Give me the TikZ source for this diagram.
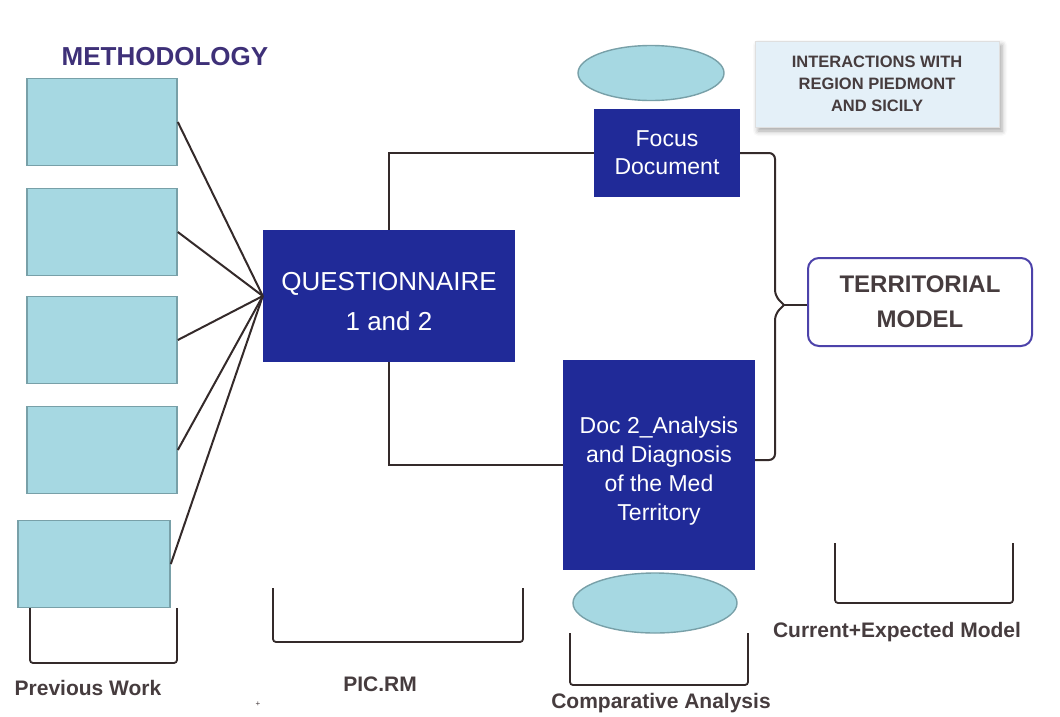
\documentclass[tikz,border=0pt]{standalone}
\usepackage{fontspec}
\setmainfont{Liberation Sans}
\usetikzlibrary{shapes.geometric,shadows.blur}

\definecolor{docblue}{RGB}{32,42,152}
\definecolor{lightcyan}{RGB}{166,216,226}
\definecolor{cyanedge}{RGB}{120,160,168}
\definecolor{inkline}{RGB}{52,42,42}
\definecolor{labelgray}{RGB}{70,60,62}
\definecolor{titlepurple}{RGB}{62,48,120}
\definecolor{modeledge}{RGB}{76,66,170}
\definecolor{noteblue}{RGB}{228,240,248}

\tikzset{
  workbox/.style={draw=cyanedge, line width=1.6pt, fill=lightcyan,
    minimum width=150pt, minimum height=87pt, inner sep=0pt},
  docbox/.style={fill=docblue, text=white, align=center, inner sep=0pt},
  doctext/.style={text=white, align=center, inner sep=0pt, yshift=-6pt},
  oval/.style={ellipse, draw=cyanedge, line width=1.4pt, fill=lightcyan, inner sep=0pt},
  link/.style={draw=inkline, line width=2pt},
  bracket/.style={draw=inkline, line width=1.8pt, rounded corners=3pt},
  caption/.style={text=labelgray, font=\bfseries\fontsize{21}{24}\selectfont, inner sep=0pt}
}

\begin{document}
\begin{tikzpicture}[x=1pt,y=-1pt]
\useasboundingbox (0,0) rectangle (1060,716);

% title
\node[text=titlepurple, font=\bfseries\fontsize{26}{30}\selectfont] (title) at (165,57) {METHODOLOGY};

% previous work boxes
\node[workbox] (w1) at (102,122) {};
\node[workbox] (w2) at (102,232) {};
\node[workbox] (w3) at (102,340) {};
\node[workbox] (w4) at (102,450) {};
\node[workbox, minimum width=152pt] (w5) at (94,564) {};

% questionnaire
\node[docbox, minimum width=252pt, minimum height=132pt,
  label={[doctext, font=\fontsize{26}{40}\selectfont]center:{QUESTIONNAIRE\\1 and 2}}] (q) at (389,296) {};

% documents
\node[docbox, minimum width=146pt, minimum height=88pt,
  font=\fontsize{23}{28}\selectfont] (f) at (667,153) {Focus\\Document};
\node[docbox, minimum width=192pt, minimum height=210pt,
  label={[doctext, font=\fontsize{23}{29}\selectfont]center:{Doc 2\_Analysis\\and Diagnosis\\of the Med\\Territory}}] (d) at (659,465) {};

% ovals
\node[oval, minimum width=146pt, minimum height=55pt] (o1) at (651,73) {};
\node[oval, minimum width=164pt, minimum height=60pt] (o2) at (655,603) {};

% note
\node[fill=noteblue, draw=gray!25, line width=0.8pt,
  blur shadow={shadow xshift=3pt, shadow yshift=-4pt, shadow blur radius=5pt, shadow opacity=35},
  minimum width=244pt, minimum height=86pt, align=center, text=labelgray,
  font=\bfseries\fontsize{16.5}{22}\selectfont] (n) at (877,84)
  {INTERACTIONS WITH\\REGION PIEDMONT\\AND SICILY};

% territorial model
\node[draw=modeledge, line width=2pt, rounded corners=11pt, fill=white,
  minimum width=224pt, minimum height=88pt, align=center, text=labelgray,
  font=\bfseries\fontsize{24}{35}\selectfont] (t) at (920,302) {TERRITORIAL\\MODEL};

% links into the questionnaire
\foreach \b in {w1,w2,w3,w4,w5}
  \draw[link] (\b.east) -- (q.west);

% links from the questionnaire to the documents
\draw[link] (q.north) |- (f.west);
\draw[link] (q.south) |- (d.west);

% brace joining both documents to the model
\coordinate (bt) at (775,153);
\coordinate (bb) at (775,460);
\coordinate (bm) at (784,305);
\draw[link, rounded corners=6pt] (f.east) -- (bt) -- (775,296) -- (bm);
\draw[link, rounded corners=6pt] (d.east |- bb) -- (bb) -- (775,314) -- (bm);
\draw[link] (bm) -- (t.west |- bm);

% group brackets
\coordinate (v1) at (30,608);
\coordinate (v2) at (177,608);
\draw[bracket] (v1) |- (100,663) -| (v2);
\coordinate (p1) at (273,588);
\coordinate (p2) at (523,588);
\draw[bracket] (p1) |- (398,642) -| (p2);
\coordinate (c1) at (570,633);
\coordinate (c2) at (748,633);
\draw[bracket] (c1) |- (659,685) -| (c2);
\coordinate (e1) at (835,543);
\coordinate (e2) at (1013,543);
\draw[bracket] (e1) |- (924,603) -| (e2);

% captions
\node[caption] (l1) at (88,688) {Previous Work};
\node[caption] (l2) at (380,684) {PIC.RM};
\node[caption] (l3) at (661,703) {Comparative Analysis};
\node[caption] (l4) at (897,632) {Current+Expected Model};
\node[text=labelgray, font=\fontsize{8}{9}\selectfont, inner sep=0pt] (dot) at (258,704) {+};
\end{tikzpicture}
\end{document}
